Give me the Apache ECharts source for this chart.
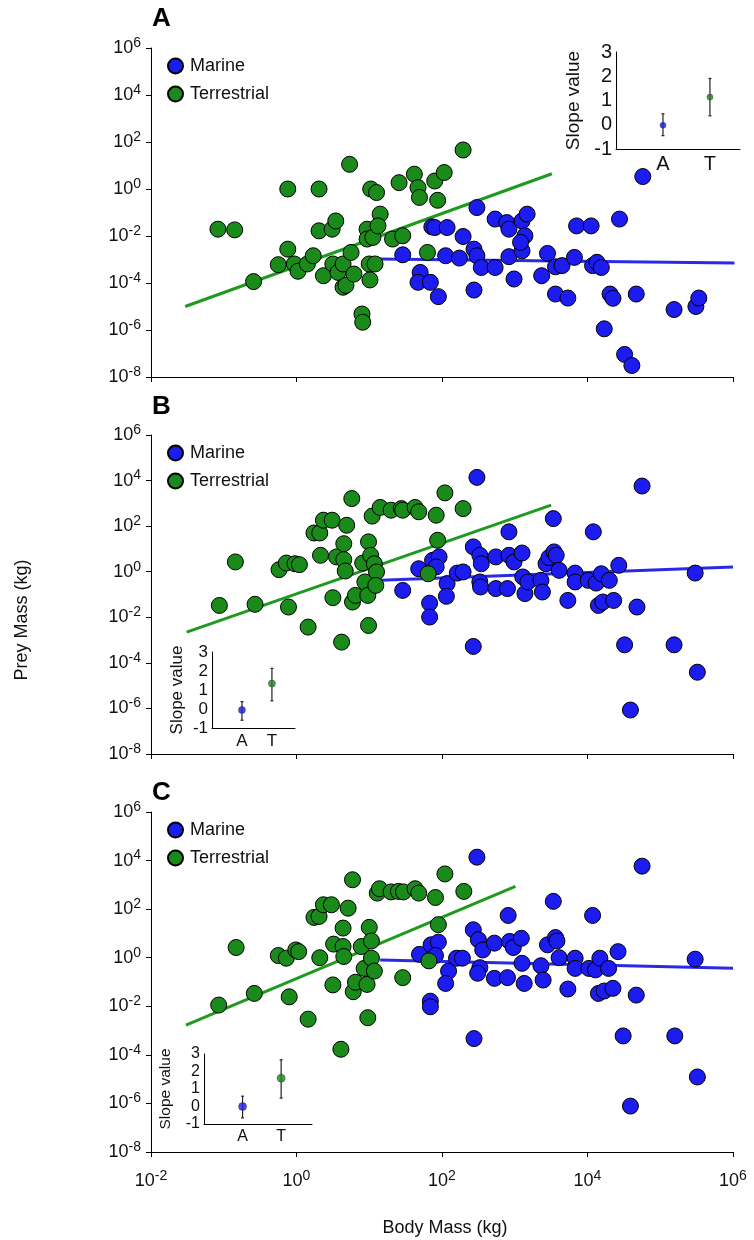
<!DOCTYPE html>
<html>
<head>
<meta charset="utf-8">
<script src="https://cdn.jsdelivr.net/npm/echarts@6/dist/echarts.min.js"></script>
<style>
  html, body { margin: 0; padding: 0; background: #fff; }
  #chart { width: 754px; height: 1240px; }
</style>
</head>
<body>
<div id="chart"></div>
<script>
// all masses are log10(kg): [body, prey]
const marineA = [[1.46,-2.8],[1.7,-3.55],[1.67,-3.97],[1.84,-3.97],[1.95,-4.58],[1.86,-1.61],[1.9,-1.64],[2.07,-1.64],
  [2.05,-2.84],[2.24,-2.94],[2.29,-2.02],[2.44,-2.56],[2.48,-2.84],[2.54,-3.34],[2.44,-4.3],[2.48,-0.79],[2.73,-1.28],
  [2.73,-3.34],[2.89,-1.43],[2.92,-1.71],[2.92,-2.88],[2.99,-3.83],[3.1,-1.36],[3.17,-1.07],[3.14,-1.99],[3.1,-2.63],
  [3.08,-2.27],[3.37,-3.69],[3.45,-2.74],[3.56,-3.31],[3.65,-3.26],[3.56,-4.47],[3.73,-4.64],[3.82,-2.91],[3.85,-1.57],
  [4.05,-1.57],[4.07,-3.26],[4.13,-3.12],[4.19,-3.34],[4.23,-5.95],[4.31,-4.47],[4.35,-4.65],[4.44,-1.28],[4.51,-7.04],
  [4.61,-7.51],[4.67,-4.47],[4.76,0.53],[5.19,-5.13],[5.49,-5.0],[5.53,-4.64]];
const terrestrialA = [[-1.08,-1.71],[-0.85,-1.74],[-0.59,-3.94],[-0.25,-3.22],[-0.12,0],[-0.12,-2.56],[-0.03,-3.19],
  [0.02,-3.5],[0.15,-3.19],[0.23,-2.84],[0.31,0],[0.31,-1.78],[0.37,-3.69],[0.49,-1.71],[0.54,-1.36],[0.5,-3.19],
  [0.57,-3.55],[0.64,-3.19],[0.64,-4.18],[0.68,-4.1],[0.73,1.05],[0.75,-2.7],[0.79,-3.62],[0.9,-5.32],[0.91,-5.67],
  [0.97,-1.71],[0.97,-2.13],[1.0,-3.19],[1.01,-3.87],[1.02,0],[1.05,-2.06],[1.1,-0.15],[1.15,-1.07],[1.12,-1.57],
  [1.08,-3.19],[1.32,-2.13],[1.46,-1.99],[1.41,0.27],[1.62,0.63],[1.67,0.06],[1.69,-0.36],[1.8,-2.7],[1.9,0.34],
  [1.94,-0.48],[2.03,0.7],[2.29,1.66]];
const fitMarineA = [[1.14,-2.98],[6.02,-3.15]];
const fitTerrestrialA = [[-1.53,-5.0],[3.51,0.65]];

const marineB = [[1.46,-0.82],[1.68,0.13],[1.83,-1.38],[1.83,-1.99],[1.87,0.5],[1.96,0.65],[1.92,0.21],[2.07,-0.52],
  [2.06,-1.08],[2.21,-0.06],[2.29,-0.01],[2.43,-3.28],[2.48,4.14],[2.43,1.09],[2.52,0.72],[2.54,0.35],[2.52,-0.45],
  [2.53,-0.67],[2.74,0.65],[2.74,-0.74],[2.9,-0.74],[2.92,1.75],[2.92,0.72],[2.99,0.43],[3.1,0.82],[3.11,-0.23],
  [3.14,-0.96],[3.18,-0.45],[3.36,-0.38],[3.38,-0.89],[3.43,0.35],[3.47,0.62],[3.54,0.87],[3.57,0.72],[3.53,2.33],
  [3.61,0.06],[3.73,-1.26],[3.83,-0.06],[3.83,-0.45],[4.01,-0.38],[4.08,1.75],[4.12,-0.5],[4.19,-0.09],[4.3,-0.38],
  [4.15,-1.48],[4.21,-1.33],[4.36,-1.26],[4.43,0.28],[4.51,-3.21],[4.59,-6.07],[4.68,-1.55],[4.75,3.76],[5.19,-3.21],
  [5.48,-0.06],[5.51,-4.41]];
const terrestrialB = [[-1.06,-1.48],[-0.84,0.43],[-0.57,-1.43],[-0.24,0.09],[-0.14,0.38],[-0.02,0.35],[0.04,0.31],
  [-0.11,-1.55],[0.16,-2.43],[0.24,1.7],[0.32,1.7],[0.33,0.72],[0.37,2.26],[0.49,2.26],[0.5,-1.14],[0.55,0.65],
  [0.62,-3.09],[0.65,1.23],[0.65,0.53],[0.67,0.03],[0.69,2.04],[0.76,3.21],[0.77,-1.33],[0.81,-1.04],[0.91,0.38],
  [0.94,-0.45],[0.98,-1.04],[0.99,1.31],[0.99,-2.36],[1.02,0.72],[1.04,2.44],[1.07,0.35],[1.1,-0.01],[1.09,-0.6],
  [1.15,2.82],[1.3,2.7],[1.44,2.77],[1.46,2.7],[1.63,2.82],[1.68,2.63],[1.81,-0.09],[1.92,2.48],[1.94,1.38],
  [2.04,3.46],[2.29,2.77]];
const fitMarineB = [[1.16,-0.38],[6.0,0.21]];
const fitTerrestrialB = [[-1.51,-2.65],[3.5,2.92]];

const marineC = [[1.69,0.14],[1.85,0.53],[1.95,0.64],[1.84,-1.79],[1.84,-2.02],[1.91,0.09],[2.09,-0.55],[2.05,-1.06],
  [2.2,-0.02],[2.28,-0.02],[2.43,1.15],[2.48,4.14],[2.44,-3.33],[2.5,0.74],[2.56,0.32],[2.52,-0.41],[2.49,-0.64],
  [2.72,0.6],[2.72,-0.85],[2.9,-0.82],[2.91,1.74],[2.93,0.67],[2.98,0.42],[3.09,0.8],[3.1,-0.23],[3.13,-1.06],
  [3.36,-0.33],[3.39,-0.92],[3.45,0.53],[3.53,2.32],[3.56,0.83],[3.58,0.69],[3.61,0.0],[3.73,-1.29],[3.83,-0.02],
  [3.83,-0.44],[4.02,-0.44],[4.07,1.74],[4.11,-0.5],[4.17,-0.02],[4.29,-0.44],[4.15,-1.47],[4.23,-1.37],[4.35,-1.26],
  [4.42,0.25],[4.49,-3.22],[4.59,-6.11],[4.67,-1.54],[4.75,3.77],[5.2,-3.22],[5.48,-0.06],[5.51,-4.91]];
const terrestrialC = [[-1.07,-1.95],[-0.83,0.42],[-0.58,-1.47],[-0.25,0.09],[-0.14,-0.02],[-0.01,0.32],[0.03,0.25],
  [-0.1,-1.61],[0.16,-2.53],[0.24,1.66],[0.31,1.7],[0.32,0.0],[0.37,2.18],[0.48,2.18],[0.5,-1.12],[0.51,0.56],
  [0.61,-3.77],[0.64,1.22],[0.64,0.46],[0.65,0.05],[0.71,2.04],[0.77,3.21],[0.78,-1.4],[0.81,-1.01],[0.89,0.46],
  [0.93,-0.44],[0.97,-1.1],[0.98,-2.47],[1.0,1.25],[1.03,0.69],[1.03,-0.02],[1.07,-0.55],[1.11,2.66],[1.14,2.84],
  [1.3,2.71],[1.4,2.73],[1.47,2.71],[1.46,-0.82],[1.63,2.84],[1.68,2.66],[1.82,-0.13],[1.91,2.48],[1.95,1.36],
  [2.04,3.45],[2.3,2.73]];
const fitMarineC = [[1.15,-0.09],[6.0,-0.43]];
const fitTerrestrialC = [[-1.52,-2.78],[3.01,2.94]];

// inset slopes: A = aquatic (marine), T = terrestrial
const slopeGroups = ['A', 'T'];
const slopeA = [-0.02, 1.14], slopeLowA = [-0.45, 0.37], slopeHighA = [0.45, 1.91];
const slopeB = [-0.05, 1.34], slopeLowB = [-0.59, 0.43], slopeHighB = [0.39, 2.14];
const slopeC = [0.0, 1.62], slopeLowC = [-0.65, 0.48], slopeHighC = [0.59, 2.67];

const xTicks = [-2, 0, 2, 4, 6];
const yTicks = [-8, -6, -4, -2, 0, 2, 4, 6];

const BLUE = '#1c1cf0';
const GREEN = '#1a8a1a';
const LINE_BLUE = '#2a2ae6';
const LINE_GREEN = '#1e9a1e';
const FONT = 'Liberation Sans, Arial, sans-serif';

const powLabel = v => '{b|10}{s|' + v + '}';
const powRich = {
  b: { fontSize: 18, fontFamily: FONT, color: '#111', lineHeight: 24 },
  s: { fontSize: 14, fontFamily: FONT, color: '#111', verticalAlign: 'top', lineHeight: 14 }
};

const panels = [
  { name: 'A', labelTop: 6, top: 48, height: 329, marine: marineA, terr: terrestrialA, fitM: fitMarineA, fitT: fitTerrestrialA,
    inset: { left: 616, top: 52, width: 124, height: 97, max: 2.64, fs: 19, nameFs: 19, sym: 6, gap: 27 },
    slope: slopeA, low: slopeLowA, high: slopeHighA },
  { name: 'B', labelTop: 394, top: 435, height: 319, marine: marineB, terr: terrestrialB, fitM: fitMarineB, fitT: fitTerrestrialB,
    inset: { left: 212, top: 652, width: 83, height: 76, max: 2.77, fs: 16, nameFs: 17, sym: 7, gap: 20 },
    slope: slopeB, low: slopeLowB, high: slopeHighB },
  { name: 'C', labelTop: 780, top: 812, height: 340, marine: marineC, terr: terrestrialC, fitM: fitMarineC, fitT: fitTerrestrialC,
    inset: { left: 204, top: 1054, width: 108, height: 70, max: 2.8, fs: 15, nameFs: 15.5, sym: 8, gap: 24 },
    slope: slopeC, low: slopeLowC, high: slopeHighC }
];

const grid = [], xAxis = [], yAxis = [], series = [], legend = [], graphic = [];

panels.forEach((p, i) => {
  const last = i === panels.length - 1;
  grid.push({ left: 151, width: 582, top: p.top, height: p.height });
  xAxis.push({
    type: 'value', gridIndex: grid.length - 1, min: xTicks[0], max: xTicks[xTicks.length - 1], interval: 2,
    axisLine: { onZero: false, lineStyle: { color: '#000', width: 1 } },
    axisTick: { length: 5, lineStyle: { color: '#000' } },
    splitLine: { show: false },
    axisLabel: { show: last, margin: 17, formatter: powLabel, rich: powRich }
  });
  yAxis.push({
    type: 'value', gridIndex: grid.length - 1, min: yTicks[0], max: yTicks[yTicks.length - 1], interval: 2,
    axisLine: { show: true, onZero: false, lineStyle: { color: '#000', width: 1 } },
    axisTick: { show: true, length: 5, lineStyle: { color: '#000' } },
    splitLine: { show: false },
    axisLabel: { margin: 10, formatter: powLabel, rich: powRich }
  });
  const gi = grid.length - 1;
  series.push({
    type: 'line', name: 'fitM' + p.name, xAxisIndex: gi, yAxisIndex: gi, data: p.fitM, symbol: 'none',
    lineStyle: { color: LINE_BLUE, width: 3 }, z: 1, silent: true
  });
  series.push({
    type: 'line', name: 'fitT' + p.name, xAxisIndex: gi, yAxisIndex: gi, data: p.fitT, symbol: 'none',
    lineStyle: { color: LINE_GREEN, width: 3 }, z: 1, silent: true
  });
  series.push({
    type: 'scatter', name: 'Marine', xAxisIndex: gi, yAxisIndex: gi, data: p.marine, symbolSize: 16,
    itemStyle: { color: BLUE, borderColor: '#000', borderWidth: 1, opacity: 1 }, z: 2
  });
  series.push({
    type: 'scatter', name: 'Terrestrial', xAxisIndex: gi, yAxisIndex: gi, data: p.terr, symbolSize: 16,
    itemStyle: { color: GREEN, borderColor: '#000', borderWidth: 1, opacity: 1 }, z: 3
  });
  legend.push({
    left: 162, top: p.top + 4, orient: 'vertical', itemGap: 10, itemWidth: 15, itemHeight: 15,
    icon: 'circle', data: ['Marine', 'Terrestrial'], selectedMode: false,
    textStyle: { fontSize: 18, fontFamily: FONT, color: '#111', padding: [0, 0, 0, 2] }
  });
  graphic.push({
    type: 'text', left: 152, top: p.labelTop, style: { text: p.name, font: 'bold 26px ' + FONT, fill: '#000' }
  });

  // inset with slope estimates
  const s = p.inset;
  grid.push({ left: s.left, top: s.top, width: s.width, height: s.height });
  const ii = grid.length - 1;
  xAxis.push({
    type: 'value', gridIndex: ii, min: 0, max: s.max, interval: 1,
    axisLine: { onZero: false, lineStyle: { color: '#000', width: 1 } },
    axisTick: { show: false }, splitLine: { show: false },
    axisLabel: {
      margin: 5, fontSize: s.fs + 1, fontFamily: FONT, color: '#111', showMaxLabel: false,
      formatter: v => (v >= 1 && v <= slopeGroups.length && Number.isInteger(v)) ? slopeGroups[v - 1] : ''
    }
  });
  yAxis.push({
    type: 'value', gridIndex: ii, min: -1, max: 3, interval: 1,
    name: 'Slope value', nameLocation: 'middle', nameGap: s.gap, nameRotate: 90,
    nameTextStyle: { fontSize: s.nameFs, fontFamily: FONT, color: '#111', padding: [0, 0, 6, 0] },
    axisLine: { show: true, onZero: false, lineStyle: { color: '#000', width: 1 } },
    axisTick: { show: false }, splitLine: { show: false },
    axisLabel: { margin: 4, fontSize: s.fs + 1, fontFamily: FONT, color: '#111' }
  });
  series.push({
    type: 'custom', xAxisIndex: ii, yAxisIndex: ii, silent: true, z: 4,
    data: slopeGroups.map((g, k) => [k + 1, p.low[k], p.high[k]]),
    renderItem: (params, api) => {
      const lo = api.coord([api.value(0), api.value(1)]);
      const hi = api.coord([api.value(0), api.value(2)]);
      const st = { stroke: '#222', lineWidth: 1.2 };
      return {
        type: 'group', children: [
          { type: 'line', shape: { x1: lo[0], y1: lo[1], x2: hi[0], y2: hi[1] }, style: st },
          { type: 'line', shape: { x1: lo[0] - 1.5, y1: lo[1], x2: lo[0] + 1.5, y2: lo[1] }, style: st },
          { type: 'line', shape: { x1: hi[0] - 1.5, y1: hi[1], x2: hi[0] + 1.5, y2: hi[1] }, style: st }
        ]
      };
    }
  });
  series.push({
    type: 'scatter', xAxisIndex: ii, yAxisIndex: ii, symbolSize: s.sym, z: 5, silent: true,
    data: slopeGroups.map((g, k) => ({
      value: [k + 1, p.slope[k]],
      itemStyle: { color: k === 0 ? BLUE : GREEN, borderColor: '#222', borderWidth: 0.5 }
    }))
  });
});

graphic.push({
  type: 'text', x: 22, y: 620, rotation: Math.PI / 2, origin: [0, 0],
  style: { text: 'Prey Mass (kg)', font: '18px ' + FONT, fill: '#111', align: 'center', verticalAlign: 'middle' }
});
graphic.push({
  type: 'text', x: 445, y: 1228,
  style: { text: 'Body Mass (kg)', font: '18px ' + FONT, fill: '#111', align: 'center', verticalAlign: 'middle' }
});

const chart = echarts.init(document.getElementById('chart'), null, { renderer: 'canvas' });
chart.setOption({
  animation: false,
  backgroundColor: '#fff',
  grid, xAxis, yAxis, series, legend, graphic
});
</script>
</body>
</html>
